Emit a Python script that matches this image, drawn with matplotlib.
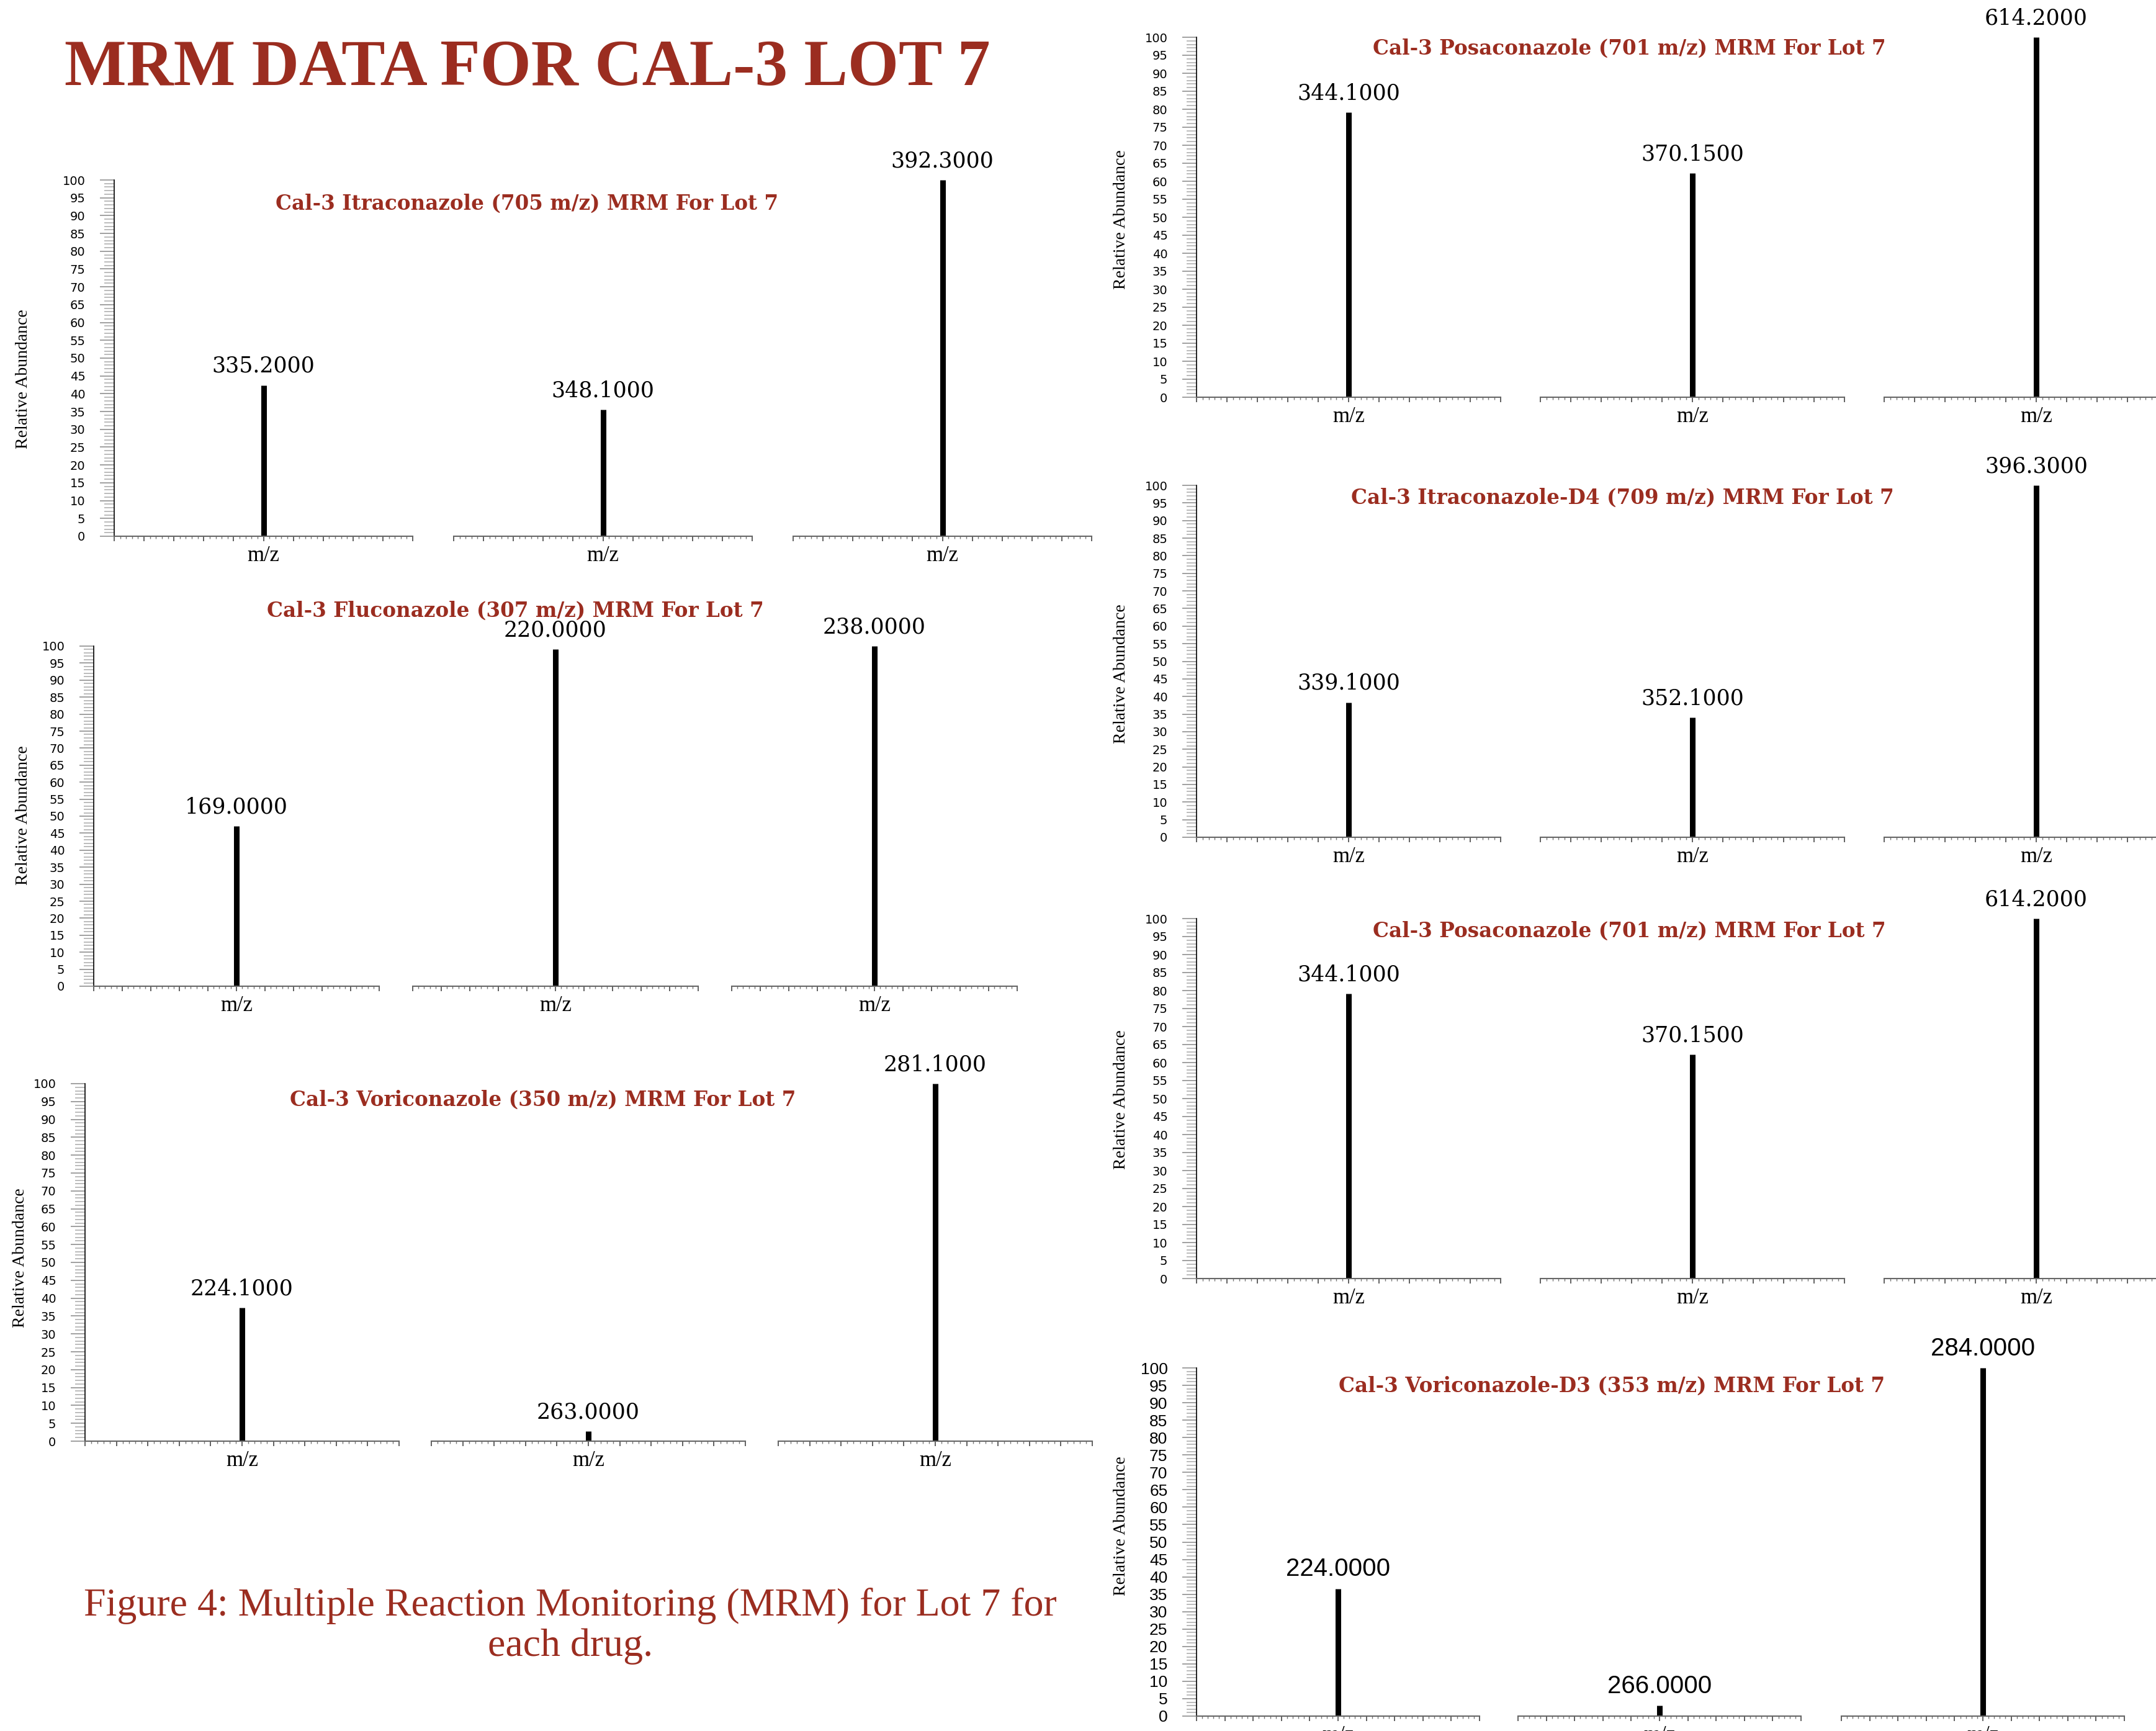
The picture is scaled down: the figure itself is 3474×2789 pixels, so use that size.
import numpy as np
import matplotlib
matplotlib.use('Agg')
import matplotlib.pyplot as plt

# MRM spectra for Cal-3 Lot 7, three transitions per drug

panel_titles = [
    "Cal-3 Itraconazole (705 m/z) MRM For Lot 7",
    "Cal-3 Fluconazole (307 m/z) MRM For Lot 7",
    "Cal-3 Voriconazole (350 m/z) MRM For Lot 7",
    "Cal-3 Posaconazole (701 m/z) MRM For Lot 7",
    "Cal-3 Itraconazole-D4 (709 m/z) MRM For Lot 7",
    "Cal-3 Posaconazole (701 m/z) MRM For Lot 7",
    "Cal-3 Voriconazole-D3 (353 m/z) MRM For Lot 7",
]
peak_mz = [
    [335.2, 348.1, 392.3],
    [169.0, 220.0, 238.0],
    [224.1, 263.0, 281.1],
    [344.1, 370.15, 614.2],
    [339.1, 352.1, 396.3],
    [344.1, 370.15, 614.2],
    [224.0, 266.0, 284.0],
]
peak_abund = [
    [42.4, 35.5, 100],
    [47, 99, 100],
    [37.3, 2.7, 100],
    [79.1, 62.2, 100],
    [38.3, 34, 100],
    [79.1, 62.2, 100],
    [36.6, 3.0, 100],
]
main_title = "MRM DATA FOR CAL-3 LOT 7"
caption = "Figure 4: Multiple Reaction Monitoring (MRM) for Lot 7 for\neach drug."

RED = '#9B2D20'
W, H = 3474, 2789

# pixel layout: (y of 100, y of 0, segment lefts, segment width)
layout = [
    (290, 864, [184, 731, 1278], 481),
    (1041, 1589, [151, 665, 1179], 460),
    (1746, 2322, [137, 695, 1254], 506),
    (60, 640, [1928, 2482, 3036], 490),
    (782, 1349, [1928, 2482, 3036], 490),
    (1480, 2060, [1928, 2482, 3036], 490),
    (2204, 2765, [1928, 2446, 2967], 456),
]
title_xy = [(849, 328), (830, 984), (875, 1772), (2625, 78),
            (2614, 802), (2625, 1500), (2597, 2233)]
ylabel_xy = [(38, 611), (38, 1314), (33, 2027), (1806, 354),
             (1806, 1086), (1806, 1772), (1806, 2459)]

fig = plt.figure(figsize=(W / 100, H / 100), dpi=100)


def fx(x):
    return x / W


def fy(y):
    return 1 - y / H


def draw_panel(i):
    ytop, ybot, lefts, width = layout[i]
    narrow = (i == 6)
    for j, (mz, ab) in enumerate(zip(peak_mz[i], peak_abund[i])):
        ax = fig.add_axes([fx(lefts[j]), fy(ybot), width / W, (ybot - ytop) / H])
        ax.patch.set_alpha(0)
        ax.vlines(mz, 0, ab, color='black', lw=6.5)
        ax.set_xlim(mz - 5, mz + 5)
        ax.set_ylim(0, 100)
        ax.set_xticks(mz + np.arange(-5, 6))
        ax.set_xticks(mz + np.arange(-5, 5.01, 0.2), minor=True)
        ax.set_xticklabels([])
        ax.tick_params(axis='x', which='major', length=6, width=1.3, color='#555555')
        ax.tick_params(axis='x', which='minor', length=3, width=1.0, color='#777777')
        ax.spines['top'].set_visible(False)
        ax.spines['right'].set_visible(False)
        ax.spines['bottom'].set_color('#666666')
        ax.spines['bottom'].set_linewidth(1.5)
        if j == 0:
            ax.set_yticks(range(0, 101, 5))
            ax.set_yticks(range(0, 101, 1), minor=True)
            ax.tick_params(axis='y', which='major', length=16.5, width=1.3,
                           color='#999999', labelsize=14, pad=17)
            ax.tick_params(axis='y', which='minor', length=11.5, width=1.1,
                           color='#aaaaaa')
            if narrow:
                for lab in ax.get_yticklabels():
                    lab.set_fontfamily(['Liberation Sans Narrow', 'Liberation Sans'])
                    lab.set_fontsize(19)
            ax.spines['left'].set_color('black')
            ax.spines['left'].set_linewidth(1.2)
        else:
            ax.spines['left'].set_visible(False)
            ax.set_yticks([])
        ax.set_xlabel('m/z', fontfamily='Liberation Serif', fontsize=25, labelpad=1)
        if narrow:
            ax.annotate(f"{mz:.4f}", (mz, ab), xytext=(0, 9), textcoords='offset points',
                        ha='center', va='bottom', fontsize=29,
                        fontfamily=['Liberation Sans Narrow', 'Liberation Sans'],
                        annotation_clip=False)
        else:
            ax.annotate(f"{mz:.4f}", (mz, ab), xytext=(0, 10), textcoords='offset points',
                        ha='center', va='bottom', fontsize=25, fontfamily='DejaVu Serif',
                        annotation_clip=False)

    tx, ty = title_xy[i]
    fig.text(fx(tx), fy(ty), panel_titles[i], ha='center', va='center', color=RED,
             fontsize=23.5, fontweight='bold', fontfamily='DejaVu Serif')
    lx, ly = ylabel_xy[i]
    fig.text(fx(lx), fy(ly), 'Relative Abundance', rotation=90, ha='center', va='center',
             fontsize=20, fontfamily='Liberation Serif')


for i in range(len(panel_titles)):
    draw_panel(i)

fig.text(fx(850), fy(137), main_title, ha='center', va='baseline', color=RED,
         fontsize=76, fontweight='bold', fontfamily='Liberation Serif')
fig.text(fx(919), fy(2620), caption, ha='center', va='center', color=RED,
         fontsize=46, fontfamily='Liberation Serif', linespacing=1.15,
         multialignment='center')

fig.savefig('out.png', dpi=100)
